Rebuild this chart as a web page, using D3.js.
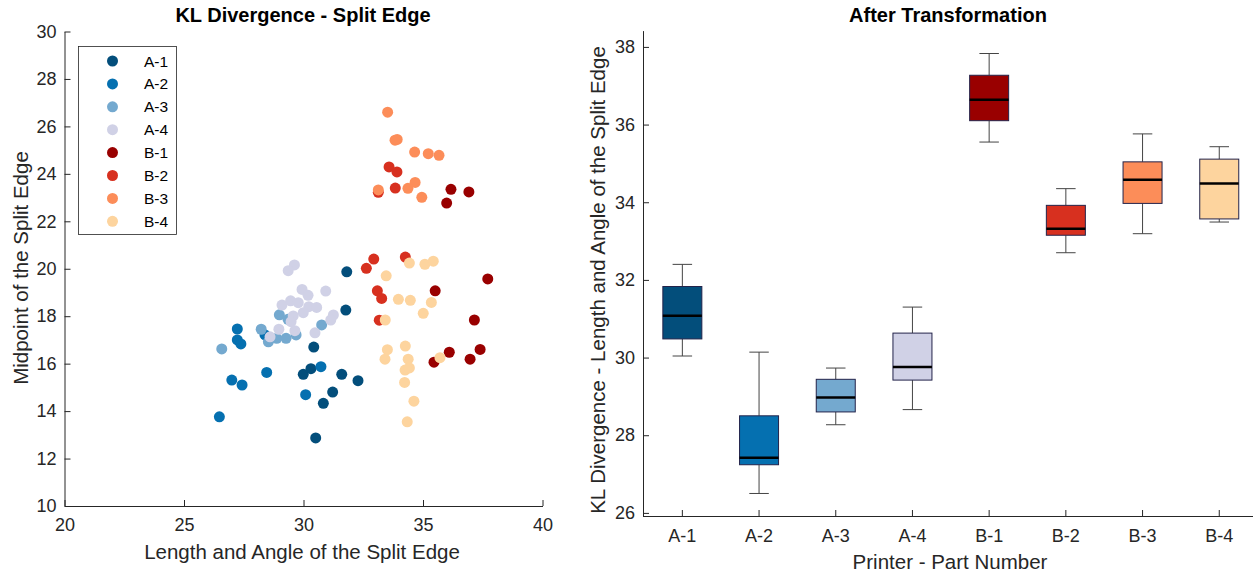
<!DOCTYPE html>
<html>
<head>
<meta charset="utf-8">
<script src="https://cdn.jsdelivr.net/npm/d3@7"></script>
<style>
    body { margin: 0; background: #fff; }
    svg { font-family: "Liberation Sans", Arial, sans-serif; }
    .tick text { font-size: 18px; fill: #262626; }
    .domain, .tick line { stroke: #262626; }
    .axis-label { font-size: 20.5px; fill: #262626; text-anchor: middle; }
    .chart-title { font-size: 20px; font-weight: bold; fill: #000; text-anchor: middle; }
    .legend-label { font-size: 15.5px; fill: #000; }
</style>
</head>
<body>
<div id="chart"></div>
<script>
// scatter groups: [length/angle, midpoint]
const groups = ["A-1", "A-2", "A-3", "A-4", "B-1", "B-2", "B-3", "B-4"];
const groupColors = ["#034e7b", "#0570b0", "#74a9cf", "#d0d1e6", "#990000", "#d7301f", "#fc8d59", "#fdd49e"];

const a1 = [[31.81, 19.87], [31.77, 18.26], [30.43, 16.70], [29.99, 15.55], [30.31, 15.79],
    [31.60, 15.55], [32.28, 15.28], [31.22, 14.80], [30.83, 14.33], [30.51, 12.87]];
const a2 = [[27.23, 17.46], [27.23, 17.00], [27.38, 16.83], [28.39, 17.21], [28.46, 15.63],
    [27.00, 15.31], [27.43, 15.10], [26.48, 13.76], [30.09, 14.69], [30.73, 15.87]];
const a3 = [[28.99, 18.06], [29.35, 17.87], [28.23, 17.45], [28.53, 16.92], [28.88, 17.07],
    [29.27, 17.07], [29.69, 17.21], [30.76, 17.63], [26.58, 16.62]];
const a4 = [[29.62, 20.16], [29.36, 19.92], [29.94, 19.13], [30.19, 18.88], [30.93, 19.06],
    [29.10, 18.47], [29.46, 18.65], [29.78, 18.57], [30.22, 18.40], [30.55, 18.37],
    [29.99, 18.15], [29.57, 18.01], [31.25, 18.05], [31.14, 17.84], [29.48, 17.77],
    [28.97, 17.45], [29.64, 17.39], [30.48, 17.30], [28.60, 17.13]];
const b1 = [[36.17, 23.35], [36.92, 23.24], [35.99, 22.77], [37.71, 19.57], [35.51, 19.07],
    [37.15, 17.84], [36.10, 16.48], [35.46, 16.06], [36.97, 16.19], [37.39, 16.60]];
const b2 = [[33.58, 24.29], [33.91, 24.08], [33.84, 23.40], [33.13, 23.22], [32.94, 20.41],
    [32.63, 20.02], [34.26, 20.49], [33.09, 19.07], [33.27, 18.75], [33.17, 17.83]];
const b3 = [[33.52, 26.60], [33.92, 25.45], [33.83, 25.42], [34.65, 24.92], [35.22, 24.85],
    [35.67, 24.78], [34.67, 23.64], [34.37, 23.39], [34.95, 23.01], [33.13, 23.32]];
const b4 = [[34.43, 20.24], [35.08, 20.19], [35.43, 20.32], [33.46, 19.70], [33.97, 18.71],
    [34.47, 18.67], [35.35, 18.58], [35.01, 18.12], [33.42, 17.84], [33.51, 16.59],
    [33.41, 16.19], [34.26, 16.74], [34.38, 16.19], [34.25, 15.73], [34.43, 15.82],
    [34.23, 15.21], [34.62, 14.42], [34.34, 13.55], [35.71, 16.25]];
const scatterSets = [a1, a2, a3, a4, b1, b2, b3, b4];

// box plot stats, per printer-part
const whiskerLow = [30.04, 26.50, 28.27, 28.66, 35.55, 32.70, 33.19, 33.49];
const q1 = [30.48, 27.24, 28.60, 29.42, 36.10, 33.15, 33.97, 33.57];
const median = [31.08, 27.42, 28.97, 29.76, 36.64, 33.32, 34.58, 34.48];
const q3 = [31.83, 28.50, 29.44, 30.63, 37.27, 33.92, 35.04, 35.11];
const whiskerHigh = [32.40, 30.14, 29.73, 31.30, 37.83, 34.35, 35.76, 35.43];

const leftTicksX = [20, 25, 30, 35, 40];
const leftTicksY = [10, 12, 14, 16, 18, 20, 22, 24, 26, 28, 30];
const rightTicksY = [26, 28, 30, 32, 34, 36, 38];

const width = 1253;
const height = 575;

const svg = d3.select("#chart")
    .append("svg")
    .attr("width", width)
    .attr("height", height);

// ---- left: scatter ----
const xScale = d3.scaleLinear().domain([20, 40]).range([64.5, 542.5]);
const yScale = d3.scaleLinear().domain([10, 30]).range([506, 31.5]);

const left = svg.append("g");

left.append("g")
    .attr("transform", `translate(0, ${yScale(10)})`)
    .call(d3.axisBottom(xScale).tickValues(leftTicksX).tickSizeInner(-6).tickSizeOuter(0).tickPadding(12))
    .call(g => g.selectAll(".tick text").attr("dy", "0.71em"));

left.append("g")
    .attr("transform", `translate(${xScale(20)}, 0)`)
    .call(d3.axisLeft(yScale).tickValues(leftTicksY).tickSizeInner(-6).tickSizeOuter(0).tickPadding(8));

const pointData = scatterSets.flatMap((set, i) => set.map(d => ({ x: d[0], y: d[1], group: i })));

left.append("g")
    .selectAll("circle")
    .data(pointData)
    .join("circle")
    .attr("cx", d => xScale(d.x))
    .attr("cy", d => yScale(d.y))
    .attr("r", 5.5)
    .attr("fill", d => groupColors[d.group]);

// legend
const legend = left.append("g");
legend.append("rect")
    .attr("x", 78.5)
    .attr("y", 46.5)
    .attr("width", 98)
    .attr("height", 188)
    .attr("fill", "#fff")
    .attr("stroke", "#262626")
    .attr("stroke-width", 0.8);

const legendRows = legend.selectAll("g.row")
    .data(groups)
    .join("g")
    .attr("class", "row")
    .attr("transform", (d, i) => `translate(0, ${61 + i * 22.9})`);

legendRows.append("circle")
    .attr("cx", 112.5)
    .attr("r", 5.5)
    .attr("fill", (d, i) => groupColors[i]);

legendRows.append("text")
    .attr("class", "legend-label")
    .attr("x", 144)
    .attr("dy", "0.36em")
    .text(d => d);

svg.append("text")
    .attr("class", "chart-title")
    .attr("x", 303)
    .attr("y", 22)
    .text("KL Divergence - Split Edge");

svg.append("text")
    .attr("class", "axis-label")
    .attr("x", 302)
    .attr("y", 559)
    .text("Length and Angle of the Split Edge");

svg.append("text")
    .attr("class", "axis-label")
    .attr("transform", `translate(28, 268) rotate(-90)`)
    .text("Midpoint of the Split Edge");

// ---- right: box plot ----
const bandScale = d3.scaleBand().domain(groups).range([644, 1257.6]).padding(0);
const boxY = d3.scaleLinear().domain([25.92, 38.42]).range([516, 30.6]);
const boxW = 39;
const capW = 19.5;

const right = svg.append("g");

right.append("g")
    .attr("transform", `translate(0, ${boxY.range()[0]})`)
    .call(d3.axisBottom(bandScale).tickSizeInner(-6).tickSizeOuter(0).tickPadding(13))
    .call(g => g.select(".domain").attr("d", `M${643},0.5H${width}`))
    .call(g => g.selectAll(".tick text").attr("dy", "0.71em"));

right.append("g")
    .attr("transform", `translate(643, 0)`)
    .call(d3.axisLeft(boxY).tickValues(rightTicksY).tickSizeInner(-6).tickSizeOuter(0).tickPadding(8));

const boxes = right.selectAll("g.box")
    .data(groups)
    .join("g")
    .attr("class", "box")
    .attr("transform", d => `translate(${bandScale(d) + bandScale.bandwidth() / 2}, 0)`);

// whiskers
boxes.append("line")
    .attr("y1", (d, i) => boxY(whiskerHigh[i]))
    .attr("y2", (d, i) => boxY(q3[i]))
    .attr("stroke", "#444");
boxes.append("line")
    .attr("y1", (d, i) => boxY(q1[i]))
    .attr("y2", (d, i) => boxY(whiskerLow[i]))
    .attr("stroke", "#444");
boxes.append("line")
    .attr("x1", -capW / 2).attr("x2", capW / 2)
    .attr("y1", (d, i) => boxY(whiskerHigh[i]))
    .attr("y2", (d, i) => boxY(whiskerHigh[i]))
    .attr("stroke", "#444");
boxes.append("line")
    .attr("x1", -capW / 2).attr("x2", capW / 2)
    .attr("y1", (d, i) => boxY(whiskerLow[i]))
    .attr("y2", (d, i) => boxY(whiskerLow[i]))
    .attr("stroke", "#444");

boxes.append("rect")
    .attr("x", -boxW / 2)
    .attr("width", boxW)
    .attr("y", (d, i) => boxY(q3[i]))
    .attr("height", (d, i) => boxY(q1[i]) - boxY(q3[i]))
    .attr("fill", (d, i) => groupColors[i])
    .attr("stroke", "#23234a")
    .attr("stroke-width", 1);

boxes.append("line")
    .attr("x1", -boxW / 2).attr("x2", boxW / 2)
    .attr("y1", (d, i) => boxY(median[i]))
    .attr("y2", (d, i) => boxY(median[i]))
    .attr("stroke", "#000")
    .attr("stroke-width", 2.5);

svg.append("text")
    .attr("class", "chart-title")
    .attr("x", 948)
    .attr("y", 22)
    .text("After Transformation");

svg.append("text")
    .attr("class", "axis-label")
    .attr("x", 950)
    .attr("y", 569)
    .text("Printer - Part Number");

svg.append("text")
    .attr("class", "axis-label")
    .attr("transform", `translate(605, 280) rotate(-90)`)
    .text("KL Divergence - Length and Angle of the Split Edge");
</script>
</body>
</html>
